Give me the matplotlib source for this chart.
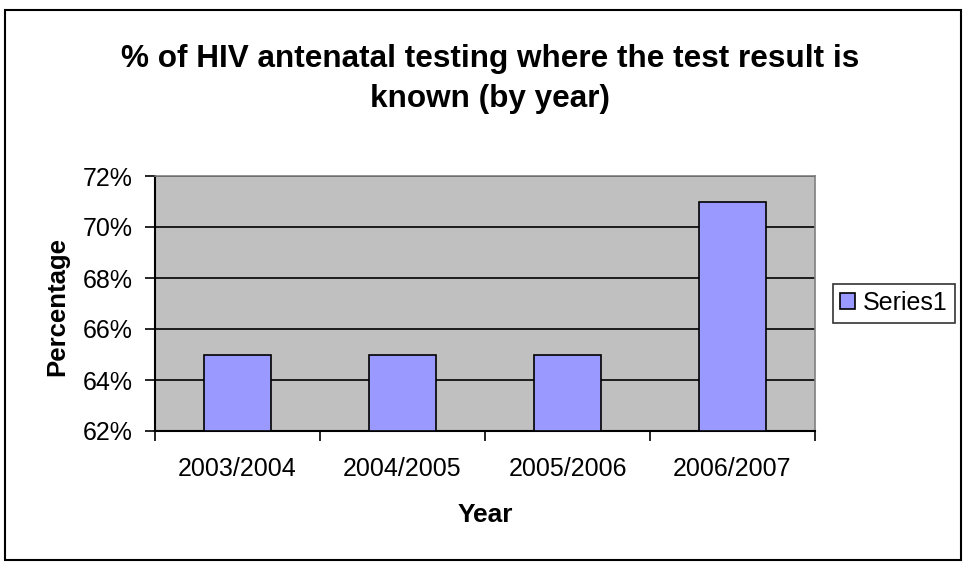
import matplotlib
matplotlib.use("Agg")
import matplotlib.pyplot as plt
from matplotlib.patches import Rectangle
import numpy as np

plt.rcParams['font.family'] = ['Liberation Sans', 'DejaVu Sans']

categories = ["2003/2004", "2004/2005", "2005/2006", "2006/2007"]
values = [65, 65, 65, 71]
yticks = [62, 64, 66, 68, 70, 72]

W, H = 963, 567
fig = plt.figure(figsize=(W/100, H/100), dpi=100)

# outer chart border
fig.patches.append(Rectangle((5/W, 1-560/H), (961-5)/W, (560-10)/H, transform=fig.transFigure,
                             fill=False, edgecolor='black', linewidth=1.5))

L, R, T, B = 155, 815, 176, 431
ax = fig.add_axes([L/W, 1-B/H, (R-L)/W, (B-T)/H])
ax.set_facecolor('#c0c0c0')
x = np.arange(len(categories))
ax.bar(x, [v - 62 for v in values], bottom=62, width=0.41, color='#9999ff',
       edgecolor='black', linewidth=1.2, zorder=3, label='Series1')
ax.set_xlim(-0.5, len(categories) - 0.5)
ax.set_ylim(62, 72)
ax.set_yticks(yticks)
ax.set_yticklabels([f"{t}%" for t in yticks], fontsize=18)
ax.yaxis.grid(True, color='black', linewidth=1.2, zorder=1)
ax.set_axisbelow(True)
ax.set_xticks(np.arange(-0.5, len(categories), 1.0))
ax.set_xticklabels([])
ax.set_xticks(x, minor=True)
ax.set_xticklabels(categories, minor=True, fontsize=18)
ax.tick_params(axis='x', which='minor', length=0, pad=19)
ax.tick_params(axis='x', which='major', length=7, width=1.2, direction='out')
ax.tick_params(axis='y', length=7, width=1.2, direction='out', pad=9)
for s in ['top', 'right']:
    ax.spines[s].set_color('#808080')
    ax.spines[s].set_linewidth(1.2)
for s in ['left', 'bottom']:
    ax.spines[s].set_color('black')
    ax.spines[s].set_linewidth(1.5)

fig.text(485/W, 1-515/H, "Year", ha='center', va='center', fontsize=19, fontweight='bold')
fig.text(57/W, 1-306/H, "Percentage", ha='center', va='center', rotation=90,
         fontsize=18.5, fontweight='bold')

fig.text(490/W, 1-79/H, "% of HIV antenatal testing where the test result is\nknown (by year)",
         ha='center', va='center', fontsize=22.7, fontweight='bold', linespacing=1.45)

leg = fig.legend(loc='center', bbox_to_anchor=(894/W, 1-303/H), fontsize=18,
                 frameon=True, fancybox=False, edgecolor='black', handlelength=0.6,
                 handleheight=0.6, handletextpad=0.3, borderpad=0.3, borderaxespad=0)
leg.get_frame().set_linewidth(1.2)

fig.savefig("out.png", dpi=100)
